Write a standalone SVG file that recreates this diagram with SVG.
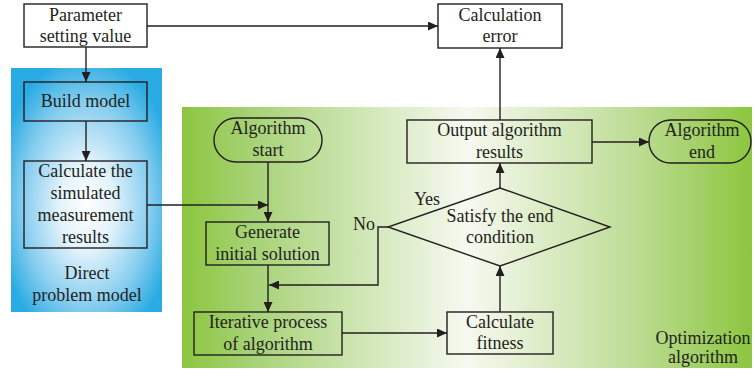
<svg xmlns="http://www.w3.org/2000/svg" width="755" height="376" viewBox="0 0 755 376">
<defs>
<style>
text{font-size:18px;fill:#231f20;text-anchor:middle}
.box{fill:none;stroke:#231f20;stroke-width:1.4}
.wbox{fill:#ffffff;stroke:#231f20;stroke-width:1.4}
.con{fill:none;stroke:#231f20;stroke-width:1.4}
</style>
<marker id="ah" markerUnits="userSpaceOnUse" markerWidth="10" markerHeight="9" refX="10" refY="4.5" orient="auto">
<path d="M0,0 L10,4.5 L0,9 Z" fill="#231f20"/>
</marker>
<radialGradient id="blueg" cx="0.5" cy="0.55" r="0.6" fx="0.5" fy="0.58">
<stop offset="0" stop-color="#ffffff"/>
<stop offset="0.3" stop-color="#e3f3fb"/>
<stop offset="0.7" stop-color="#86cdef"/>
<stop offset="1" stop-color="#2aabe3"/>
</radialGradient>
<linearGradient id="greeng" x1="0" y1="0" x2="1" y2="0">
<stop offset="0" stop-color="#8cc63f"/>
<stop offset="0.12" stop-color="#a6d275"/>
<stop offset="0.5" stop-color="#f6f9f0"/>
<stop offset="0.8" stop-color="#bcdc93"/>
<stop offset="1" stop-color="#8cc63f"/>
</linearGradient>
</defs>
<rect width="755" height="376" fill="#ffffff"/>
<g font-family="'Liberation Serif', 'Times New Roman', Times, serif">
<g id="panel-direct">
<rect x="11" y="68" width="151" height="244" fill="url(#blueg)"/>
<text x="87" y="279">Direct</text>
<text x="87" y="301">problem model</text>
</g>
<g id="panel-optimization">
<rect x="182" y="107" width="570" height="261" fill="url(#greeng)"/>
<text x="703" y="344">Optimization</text>
<text x="703" y="363">algorithm</text>
</g>
<g id="connectors">
<line class="con" x1="86" y1="47" x2="86" y2="82" marker-end="url(#ah)"/>
<line class="con" x1="86" y1="121" x2="86" y2="161" marker-end="url(#ah)"/>
<line class="con" x1="147" y1="26" x2="438" y2="26" marker-end="url(#ah)"/>
<line class="con" x1="147" y1="205" x2="268" y2="205" marker-end="url(#ah)"/>
<line class="con" x1="268" y1="162" x2="268" y2="222" marker-end="url(#ah)"/>
<line class="con" x1="268" y1="265" x2="268" y2="312" marker-end="url(#ah)"/>
<polyline class="con" points="388,227 378,227 378,285 269,285" marker-end="url(#ah)"/>
<line class="con" x1="342" y1="333" x2="447" y2="333" marker-end="url(#ah)"/>
<line class="con" x1="500" y1="312" x2="500" y2="266" marker-end="url(#ah)"/>
<line class="con" x1="500" y1="188" x2="500" y2="163" marker-end="url(#ah)"/>
<line class="con" x1="500" y1="120" x2="500" y2="48" marker-end="url(#ah)"/>
<line class="con" x1="592" y1="142" x2="649" y2="142" marker-end="url(#ah)"/>
<text x="427" y="205">Yes</text>
<text x="364" y="230">No</text>
</g>
<g id="param">
<rect class="wbox" x="24" y="4" width="123" height="43"/>
<text x="85.5" y="21">Parameter</text>
<text x="85.5" y="42">setting value</text>
</g>
<g id="calc-error">
<rect class="wbox" x="438" y="4" width="124" height="44"/>
<text x="500" y="21">Calculation</text>
<text x="500" y="42">error</text>
</g>
<g id="build-model">
<rect class="box" x="24" y="82" width="123" height="39"/>
<text x="85.5" y="107">Build model</text>
</g>
<g id="calc-sim">
<rect class="box" x="24" y="161" width="123" height="87"/>
<text x="85.5" y="177">Calculate the</text>
<text x="85.5" y="199">simulated</text>
<text x="85.5" y="221">measurement</text>
<text x="85.5" y="243">results</text>
</g>
<g id="alg-start">
<rect class="box" x="214" y="118" width="108" height="44" rx="22" ry="22"/>
<text x="268" y="134">Algorithm</text>
<text x="268" y="156">start</text>
</g>
<g id="generate">
<rect class="box" x="206" y="222" width="123" height="43"/>
<text x="267.5" y="238">Generate</text>
<text x="267.5" y="260">initial solution</text>
</g>
<g id="iterative">
<rect class="box" x="194" y="312" width="148" height="43"/>
<text x="268" y="328">Iterative process</text>
<text x="268" y="350">of algorithm</text>
</g>
<g id="fitness">
<rect class="box" x="447" y="312" width="106" height="42"/>
<text x="500" y="328">Calculate</text>
<text x="500" y="349">fitness</text>
</g>
<g id="condition">
<polygon class="box" points="500,188 610,227 500,266 388,227"/>
<text x="500" y="222">Satisfy the end</text>
<text x="500" y="243">condition</text>
</g>
<g id="output">
<rect class="box" x="407" y="120" width="185" height="43"/>
<text x="499.5" y="136">Output algorithm</text>
<text x="499.5" y="158">results</text>
</g>
<g id="alg-end">
<rect class="box" x="649" y="120" width="102" height="43" rx="21.5" ry="21.5"/>
<text x="702" y="136">Algorithm</text>
<text x="702" y="158">end</text>
</g>
</g>
</svg>
